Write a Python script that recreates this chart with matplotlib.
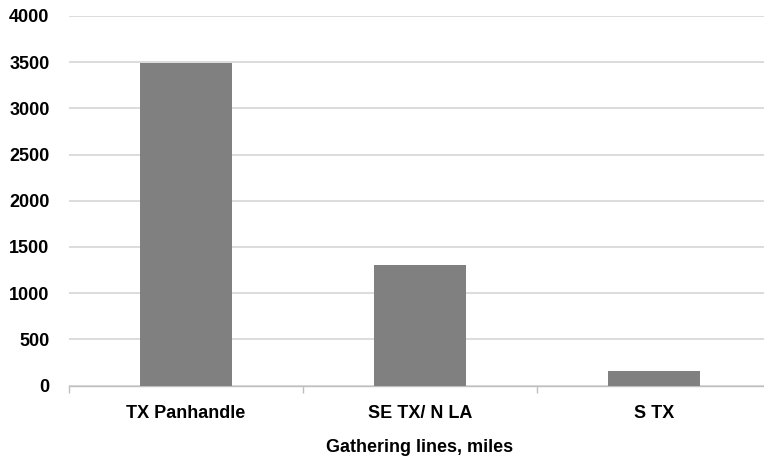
import matplotlib
matplotlib.use("Agg")
from matplotlib import pyplot as plt
import numpy as np

# data
regions = ['TX Panhandle', 'SE TX/ N LA', 'S TX']
miles = [3490, 1300, 160]
y_ticks = [0, 500, 1000, 1500, 2000, 2500, 3000, 3500, 4000]

plt.rcParams['font.family'] = ['Liberation Sans', 'DejaVu Sans']
plt.rcParams['font.weight'] = 'bold'

fig = plt.figure(figsize=(7.64, 4.57), dpi=100)
ax = fig.add_axes([69 / 764, 1 - 385.5 / 457, 702 / 764, 369.5 / 457])

x = np.arange(len(regions))
ax.bar(x, miles, width=0.39, color='#808080', zorder=3)

ax.set_xlim(-0.5, len(regions) - 0.5)
ax.set_ylim(0, 4000)
ax.set_yticks(y_ticks)
ax.set_yticklabels([str(v) for v in y_ticks], fontsize=13, fontweight='bold')
ax.set_xticks(x)
ax.set_xticklabels(regions, fontsize=13, fontweight='bold')
ax.set_xticks(np.arange(-0.5, len(regions), 1), minor=True)

ax.tick_params(axis='y', length=0, pad=14)
ax.tick_params(axis='x', which='major', length=0, pad=14)
ax.tick_params(axis='x', which='minor', length=5, color='#bfbfbf', width=1)

ax.yaxis.grid(True, color='#d9d9d9', linewidth=1.3, zorder=0)
ax.set_axisbelow(True)
for side in ['top', 'right', 'left']:
    ax.spines[side].set_visible(False)
ax.spines['bottom'].set_color('#bfbfbf')
ax.spines['bottom'].set_linewidth(1.0)

ax.set_xlabel('Gathering lines, miles', fontsize=13, fontweight='bold', labelpad=12)

fig.savefig('out.png', dpi=100)
